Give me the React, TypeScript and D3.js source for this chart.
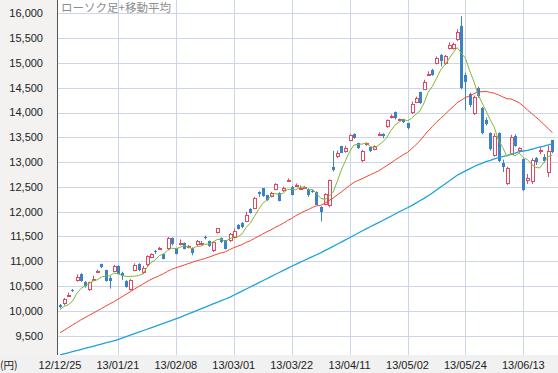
import React from "react";
import * as d3 from "d3";

// Daily candles, 12/12/25 - 13/06/24
const dates = [
  "12/12/25", "12/12/26", "12/12/27", "12/12/28",
  "13/01/04", "13/01/07", "13/01/08", "13/01/09", "13/01/10", "13/01/11", "13/01/15", "13/01/16", "13/01/17", "13/01/18",
  "13/01/21", "13/01/22", "13/01/23", "13/01/24", "13/01/25", "13/01/28", "13/01/29", "13/01/30", "13/01/31",
  "13/02/01", "13/02/04", "13/02/05", "13/02/06", "13/02/07", "13/02/08", "13/02/12", "13/02/13", "13/02/14", "13/02/15",
  "13/02/18", "13/02/19", "13/02/20", "13/02/21", "13/02/22", "13/02/25", "13/02/26", "13/02/27", "13/02/28",
  "13/03/01", "13/03/04", "13/03/05", "13/03/06", "13/03/07", "13/03/08", "13/03/11", "13/03/12", "13/03/13", "13/03/14",
  "13/03/15", "13/03/18", "13/03/19", "13/03/21", "13/03/22", "13/03/25", "13/03/26", "13/03/27", "13/03/28", "13/03/29",
  "13/04/01", "13/04/02", "13/04/03", "13/04/04", "13/04/05", "13/04/08", "13/04/09", "13/04/10", "13/04/11", "13/04/12",
  "13/04/15", "13/04/16", "13/04/17", "13/04/18", "13/04/19", "13/04/22", "13/04/23", "13/04/24", "13/04/25", "13/04/26",
  "13/04/30", "13/05/01", "13/05/02", "13/05/07", "13/05/08", "13/05/09", "13/05/10", "13/05/13", "13/05/14", "13/05/15",
  "13/05/16", "13/05/17", "13/05/20", "13/05/21", "13/05/22", "13/05/23", "13/05/24", "13/05/27", "13/05/28", "13/05/29",
  "13/05/30", "13/05/31", "13/06/03", "13/06/04", "13/06/05", "13/06/06", "13/06/07", "13/06/10", "13/06/11", "13/06/12",
  "13/06/13", "13/06/14", "13/06/17", "13/06/18", "13/06/19", "13/06/20", "13/06/21", "13/06/24",
];

const opens = [
  10120, 10130, 10300, 10430, 10604, 10750, 10575, 10420, 10640, 10790,
  10940, 10820, 10670, 10790, 10900, 10770, 10600, 10430, 10810, 10950,
  10760, 10920, 11070, 11200, 11250, 11140, 11250, 11460, 11260, 11360,
  11360, 11270, 11270, 11320, 11340, 11480, 11400, 11200, 11570, 11470,
  11420, 11400, 11470, 11740, 11780, 11800, 12060, 12060, 12400, 12470,
  12330, 12300, 12440, 12380, 12410, 12610, 12500, 12510, 12460, 12485,
  12460, 12420, 12400, 12100, 12140, 12110, 12900, 13100, 13320, 13200,
  13430, 13570, 13380, 13030, 13340, 13300, 13250, 13560, 13560, 13700,
  13890, 14010, 13850, 13860, 13780, 13980, 14200, 14410, 14460, 14770,
  14860, 14980, 15160, 14980, 15290, 15290, 15460, 15740, 14760, 14380,
  13960, 14500, 14100, 13840, 13580, 13130, 13580, 12980, 12550, 13150,
  13520, 13220, 13060, 12620, 12590, 13080, 13200, 13110, 12780, 13440,
];
const highs = [
  10140, 10260, 10370, 10440, 10734, 10760, 10600, 10590, 10710, 10830,
  10952, 10830, 10700, 10930, 10920, 10790, 10620, 10640, 10960, 10960,
  10910, 11120, 11160, 11230, 11290, 11150, 11490, 11480, 11270, 11440,
  11380, 11330, 11280, 11430, 11410, 11520, 11420, 11410, 11665, 11480,
  11430, 11570, 11660, 11750, 11790, 12000, 12070, 12300, 12410, 12480,
  12340, 12400, 12575, 12390, 12505, 12670, 12520, 12570, 12530, 12520,
  12470, 12440, 12410, 12110, 12370, 12650, 13225, 13230, 13330, 13330,
  13560, 13580, 13390, 13250, 13400, 13310, 13340, 13600, 13580, 13860,
  13960, 14020, 13880, 13870, 13790, 14220, 14320, 14420, 14660, 14830,
  14880, 15130, 15180, 15160, 15410, 15410, 15680, 15942, 14800, 14400,
  14340, 14520, 14110, 13900, 13600, 13580, 13600, 13050, 12910, 13550,
  13560, 13300, 13070, 12760, 13080, 13100, 13300, 13160, 13330, 13450,
];
const lows = [
  10050, 10110, 10280, 10380, 10590, 10590, 10470, 10400, 10620, 10760,
  10860, 10590, 10450, 10780, 10740, 10620, 10470, 10410, 10800, 10800,
  10740, 10900, 11060, 11150, 11230, 11040, 11230, 11320, 11140, 11320,
  11240, 11260, 11120, 11310, 11320, 11440, 11290, 11190, 11560, 11370,
  11240, 11390, 11460, 11640, 11670, 11790, 11960, 12050, 12300, 12300,
  12220, 12290, 12430, 12210, 12400, 12600, 12330, 12500, 12440, 12470,
  12300, 12380, 12130, 11805, 12130, 12090, 12810, 13080, 13180, 13190,
  13420, 13470, 13260, 13000, 13330, 13200, 13240, 13530, 13480, 13690,
  13880, 13860, 13830, 13790, 13660, 13970, 14190, 14170, 14450, 14740,
  14740, 14970, 14930, 14960, 15270, 15270, 15440, 14470, 14045, 14110,
  13950, 14300, 13560, 13740, 13230, 13110, 13000, 12800, 12538, 13140,
  13310, 13190, 12415, 12560, 12560, 12940, 13160, 12990, 12700, 13180,
];
const closes = [
  10080, 10230, 10323, 10395, 10688, 10599, 10508, 10579, 10653, 10802,
  10879, 10600, 10610, 10913, 10748, 10710, 10487, 10621, 10927, 10824,
  10867, 11114, 11139, 11191, 11260, 11047, 11464, 11357, 11153, 11369,
  11251, 11307, 11174, 11408, 11372, 11468, 11309, 11386, 11662, 11399,
  11254, 11559, 11606, 11652, 11683, 11932, 11968, 12284, 12349, 12315,
  12240, 12381, 12561, 12221, 12468, 12636, 12339, 12546, 12472, 12494,
  12336, 12398, 12135, 12003, 12362, 12635, 12834, 13193, 13192, 13288,
  13549, 13485, 13276, 13221, 13383, 13220, 13316, 13568, 13530, 13843,
  13926, 13884, 13861, 13799, 13694, 14180, 14286, 14191, 14608, 14782,
  14758, 15096, 15037, 15138, 15361, 15381, 15627, 14484, 14612, 14143,
  14312, 14326, 13589, 13775, 13262, 13534, 13015, 12904, 12878, 13514,
  13318, 13289, 12445, 12686, 13033, 13007, 13245, 13030, 13230, 13200,
];

// moving averages as drawn in the reference
const ma5 = [
  10029, 10090, 10123, 10194, 10343, 10447, 10503, 10554, 10605, 10628,
  10684, 10703, 10709, 10761, 10750, 10716, 10694, 10696, 10699, 10714,
  10745, 10871, 10974, 11027, 11114, 11150, 11220, 11264, 11256, 11278,
  11319, 11287, 11251, 11302, 11302, 11346, 11346, 11389, 11439, 11445,
  11402, 11452, 11496, 11494, 11551, 11686, 11768, 11904, 12043, 12170,
  12231, 12314, 12369, 12344, 12374, 12453, 12445, 12442, 12492, 12497,
  12437, 12449, 12367, 12273, 12247, 12307, 12394, 12605, 12843, 13028,
  13211, 13341, 13358, 13364, 13383, 13317, 13283, 13342, 13403, 13495,
  13637, 13750, 13809, 13863, 13833, 13884, 13964, 14030, 14192, 14409,
  14525, 14687, 14856, 14962, 15078, 15203, 15309, 15198, 15093, 14849,
  14636, 14375, 14196, 14029, 13853, 13697, 13435, 13298, 13119, 13169,
  13126, 13181, 13089, 13051, 12954, 12892, 12883, 13000, 13109, 13143,
];
const ma25 = [
  9560, 9610, 9662, 9714, 9765, 9816, 9862, 9908, 9955, 10000,
  10047, 10093, 10140, 10186, 10235, 10286, 10336, 10386, 10440, 10490,
  10540, 10590, 10635, 10672, 10710, 10749, 10798, 10839, 10870, 10897,
  10923, 10955, 10979, 11009, 11032, 11055, 11084, 11115, 11145, 11171,
  11192, 11235, 11275, 11304, 11338, 11381, 11415, 11461, 11507, 11549,
  11597, 11634, 11682, 11724, 11768, 11824, 11865, 11920, 11962, 12007,
  12042, 12086, 12116, 12129, 12168, 12223, 12274, 12337, 12399, 12463,
  12528, 12589, 12628, 12663, 12706, 12745, 12783, 12823, 12875, 12930,
  12982, 13044, 13096, 13149, 13197, 13271, 13347, 13429, 13533, 13630,
  13715, 13805, 13879, 13957, 14040, 14113, 14199, 14247, 14303, 14333,
  14377, 14417, 14418, 14428, 14404, 14389, 14354, 14316, 14279, 14272,
  14237, 14197, 14128, 14051, 13981, 13911, 13837, 13756, 13680, 13594,
];
const ma75 = [
  9111, 9133, 9155, 9177, 9199, 9221, 9243, 9265, 9287, 9309,
  9331, 9353, 9375, 9397, 9420, 9450, 9480, 9510, 9540, 9570,
  9600, 9630, 9660, 9690, 9720, 9750, 9780, 9810, 9840, 9871,
  9905, 9938, 9972, 10005, 10039, 10073, 10106, 10140, 10173, 10207,
  10240, 10274, 10316, 10357, 10399, 10441, 10482, 10524, 10566, 10608,
  10649, 10691, 10733, 10774, 10816, 10858, 10900, 10939, 10977, 11016,
  11054, 11093, 11132, 11170, 11214, 11257, 11301, 11344, 11388, 11431,
  11475, 11520, 11565, 11610, 11655, 11697, 11738, 11781, 11823, 11865,
  11909, 11954, 11998, 12040, 12079, 12123, 12172, 12220, 12269, 12323,
  12377, 12438, 12497, 12553, 12614, 12674, 12734, 12779, 12824, 12863,
  12906, 12944, 12974, 13009, 13034, 13065, 13088, 13111, 13130, 13159,
  13183, 13210, 13224, 13238, 13259, 13283, 13305, 13324, 13345, 13366,
];

const yTicks = [9500, 10000, 10500, 11000, 11500, 12000, 12500, 13000, 13500, 14000, 14500, 15000, 15500, 16000];
const xTickLabels = ["12/12/25", "13/01/21", "13/02/08", "13/03/01", "13/03/22", "13/04/11", "13/05/02", "13/05/24", "13/06/13"];

const title = "ローソク足+移動平均";
const unitLabel = "(円)";

const W = 558;
const H = 373;
const plotLeft = 58;
const plotBottom = 355;

const upColor = "#dc4a64";
const downColor = "#3b82c4";

const App = () => {
  const x = d3.scalePoint<string>().domain(dates).range([60, 552.3]);
  const y = d3.scaleLinear().domain([9500, 16000]).range([335.7, 13.3]);

  const maLine = d3
    .line<number>()
    .x((_, i) => x(dates[i]) as number)
    .y((v) => y(v));

  const fmt = d3.format(",");

  return (
    <svg width={W} height={H} style={{ position: "absolute", left: 0, top: 0, background: "#fff" }}>
      <defs>
        <clipPath id="plotClip">
          <rect x={plotLeft} y={0} width={W - plotLeft} height={plotBottom} />
        </clipPath>
      </defs>

      {/* axis panels */}
      <rect x={0} y={0} width={plotLeft} height={H} fill="#f3f2f0" />
      <rect x={0} y={plotBottom} width={W} height={H - plotBottom} fill="#f1f1f1" />

      {/* grid */}
      {yTicks.map((t) => (
        <line key={"gy" + t} x1={plotLeft} x2={W} y1={Math.round(y(t)) + 0.5} y2={Math.round(y(t)) + 0.5}
          stroke="#cdd6e6" strokeWidth={1} />
      ))}
      {xTickLabels.slice(1).map((d) => (
        <line key={"gx" + d} x1={Math.round(x(d) as number) + 0.5} x2={Math.round(x(d) as number) + 0.5}
          y1={0} y2={plotBottom} stroke="#cdd6e6" strokeWidth={1} />
      ))}

      {/* y axis line */}
      <line x1={plotLeft - 0.5} x2={plotLeft - 0.5} y1={0} y2={plotBottom} stroke="#555" strokeWidth={1} />

      {/* y labels */}
      {yTicks.map((t) => (
        <text key={"ly" + t} x={43} y={y(t)} dy="0.36em" textAnchor="end" fontSize={11}
          fontFamily="'Liberation Sans', Arial, sans-serif" fill="#222">
          {fmt(t)}
        </text>
      ))}

      {/* x labels */}
      {xTickLabels.map((d) => (
        <text key={"lx" + d} x={x(d) as number} y={369} textAnchor="middle" fontSize={11}
          fontFamily="'Liberation Sans', Arial, sans-serif" fill="#222">
          {d}
        </text>
      ))}
      <text x={0} y={369} fontSize={10.5} fontFamily="'Noto Sans CJK JP', sans-serif" fill="#222">
        {unitLabel}
      </text>

      <g clipPath="url(#plotClip)">
        {/* candles */}
        {dates.map((d, i) => {
          const cx = Math.round(x(d) as number);
          const o = opens[i];
          const c = closes[i];
          const up = c >= o;
          const col = up ? upColor : downColor;
          const top = Math.round(y(Math.max(o, c)));
          const bot = Math.round(y(Math.min(o, c)));
          const h = Math.max(1, bot - top);
          return (
            <g key={d}>
              <line x1={cx + 0.5} x2={cx + 0.5} y1={y(highs[i])} y2={y(lows[i])} stroke={col} strokeWidth={1} />
              {up ? (
                <rect x={cx - 0.5} y={top + 0.5} width={3} height={Math.max(1, h - 1)} fill="#fff" stroke={col} strokeWidth={1} />
              ) : (
                <rect x={cx - 1} y={top} width={3} height={h} fill={col} />
              )}
            </g>
          );
        })}

        {/* moving averages */}
        <path d={maLine(ma75) || ""} fill="none" stroke="#1ea3dc" strokeWidth={1.3} />
        <path d={maLine(ma25) || ""} fill="none" stroke="#f2452f" strokeWidth={1} />
        <path d={maLine(ma5) || ""} fill="none" stroke="#7fb934" strokeWidth={1} />
      </g>

      {/* title */}
      <text x={61} y={12} fontSize={11.5} fontFamily="'Noto Sans CJK JP', sans-serif" fill="#8c8c8c">
        {title}
      </text>
    </svg>
  );
};

export default App;
